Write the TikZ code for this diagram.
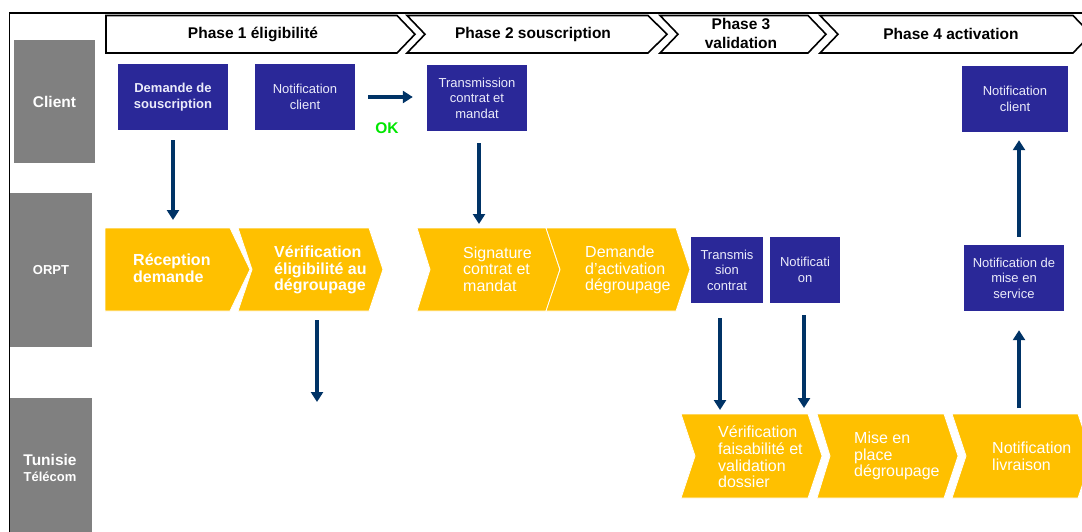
\documentclass[tikz,border=0pt]{standalone}
\usepackage{fontspec}
\setmainfont{Liberation Sans}
\usetikzlibrary{arrows.meta}
\definecolor{bluebox}{RGB}{42,40,152}
\definecolor{yel}{RGB}{255,192,0}
\definecolor{lanegray}{RGB}{128,128,128}
\definecolor{navy}{RGB}{0,51,102}
\definecolor{okgreen}{RGB}{0,230,0}
\definecolor{boxtxt}{RGB}{235,235,250}
% #1 style, #2 name, #3 xl, #4 xr (corner), #5 ytop, #6 ybot, #7 point depth, #8 notch depth
\newcommand\chv[8]{%
  \path[#1] (#3,#5) -- (#4,#5) -- ({#4+#7},{(#5+#6)/2}) -- (#4,#6) -- (#3,#6) -- ({#3+#8},{(#5+#6)/2}) -- cycle;
  \node[area, minimum width={#4+#7-#3}, minimum height={#6-#5}] (#2) at ({(#3+#4+#7)/2},{(#5+#6)/2}) {};}
\tikzset{
  area/.style={inner sep=0pt, outer sep=0pt, draw=none},
  phasechev/.style={draw=black, fill=white, line width=1.6pt, line join=miter},
  ychev/.style={fill=yel, draw=white, line width=0.8pt},
  phtxt/.style={align=center, font=\bfseries\fontsize{15.5}{19}\selectfont},
  lanebox/.style={fill=lanegray, text=white, inner sep=0pt, align=center, font=\bfseries\fontsize{15.5}{18}\selectfont},
  bbox/.style={fill=bluebox, text=boxtxt, inner sep=0pt, align=center, font=\fontsize{13}{15.5}\selectfont},
  ytxt/.style={text=white, anchor=west, align=left, inner sep=0pt, font=\fontsize{16}{16.7}\selectfont},
  ytxtb/.style={ytxt, font=\bfseries\fontsize{16}{16.7}\selectfont},
  arr/.style={draw=navy, line width=3.5pt, -{Triangle[width=12pt,length=10pt]}},
}
\begin{document}
\begin{tikzpicture}[x=1pt, y=-1pt]
\useasboundingbox (0,0) rectangle (1082,532);
\clip (0,0) rectangle (1082,532);
\fill[white] (0,0) rectangle (1082,532);

% frame
\draw[line width=1.8pt] (9.5,532) -- (9.5,13) -- (1090,13);

% phase chevrons
\chv{phasechev}{ph1}{106}{397}{15.5}{53}{18}{0}
\chv{phasechev}{ph2}{407}{648}{15.5}{53}{19}{18}
\chv{phasechev}{ph3}{660}{808}{15.5}{53}{18}{18}
\chv{phasechev}{ph4}{820}{1073}{15.5}{53}{18}{18}
\node[phtxt] (t1) at (253,34) {Phase 1 éligibilité};
\node[phtxt] (t2) at (533,34) {Phase 2 souscription};
\node[phtxt] (t3) at (741,33) {Phase 3\\validation};
\node[phtxt] (t4) at (951,34) {Phase 4 activation};

% lanes
\node[lanebox, minimum width=81, minimum height=123] (client) at (54.5,101.5) {Client};
\node[lanebox, minimum width=82, minimum height=154, font=\bfseries\fontsize{13}{15}\selectfont] (orpt) at (51,270) {ORPT};
\node[lanebox, minimum width=82, minimum height=134, text depth=0pt] (tt) at (51,465) {};
\node[text=white, align=center, inner sep=0pt, font=\bfseries\fontsize{15.5}{18}\selectfont] (ttl) at (50,468) {Tunisie\\[-2pt]{\fontsize{13}{15}\selectfont Télécom}};

% blue boxes
\node[bbox, minimum width=110, minimum height=66] (dem) at (173,97) {\textbf{Demande de}\\\textbf{souscription}};
\node[bbox, minimum width=100, minimum height=66] (nc) at (305,97) {Notification\\client};
\node[bbox, minimum width=100, minimum height=66] (tr) at (477,98) {Transmission\\contrat et\\mandat};
\node[bbox, minimum width=106, minimum height=66] (nc4) at (1015,99) {Notification\\client};
\node[bbox, minimum width=72, minimum height=66] (tc) at (727,270) {Transmis\\sion\\contrat};
\node[bbox, minimum width=70, minimum height=66] (no) at (805,270) {Notificati\\on};
\node[bbox, minimum width=100, minimum height=66] (ms) at (1014,278) {Notification de\\mise en\\service};

% yellow chevrons
\chv{ychev}{rec}{105}{230}{228}{311}{20}{0}
\chv{ychev}{ver}{238}{369}{228}{311}{14}{14}
\chv{ychev}{sig}{417}{546}{228}{311}{14}{13}
\chv{ychev}{da}{546}{676}{228}{311}{14}{14}
\chv{ychev}{vf}{681}{808}{414}{498}{14}{14}
\chv{ychev}{mp}{817}{944}{414}{498}{14}{13}
\chv{ychev}{nl}{952}{1078}{414}{498}{14}{14}

\node[ytxtb] at (133,268) {Réception\\demande};
\node[ytxtb] at (274,270) {Vérification\\éligibilité au\\dégroupage};
\node[ytxt] at (463,269) {Signature\\contrat et\\mandat};
\node[ytxt] at (585,270) {Demande\\d'activation\\dégroupage};
\node[ytxt] at (718,457) {Vérification\\faisabilité et\\validation\\dossier};
\node[ytxt] at (854,456) {Mise en\\place\\dégroupage};
\node[ytxt] at (992,456) {Notification\\livraison};

% OK label
\node[text=okgreen, font=\bfseries\fontsize{15.5}{18}\selectfont, inner sep=0pt] (ok) at (387,128) {OK};

% connectors
\coordinate (end3) at (317,402);
\draw[arr, shorten <=10pt, shorten >=8pt] (dem.south) -- (dem.south |- rec.north);
\draw[arr, shorten <=13pt, shorten >=14pt] (nc.east) -- (nc.east -| tr.west);
\draw[arr, shorten <=9pt] ([xshift=6.5pt]ver.south) -- (end3);
\draw[arr, shorten <=12pt, shorten >=4pt] ([xshift=2pt]tr.south) -- ([xshift=2pt]tr.south |- sig.north);
\draw[arr, shorten <=15pt, shorten >=4pt] ([xshift=-7pt]tc.south) -- ([xshift=-7pt]tc.south |- vf.north);
\draw[arr, shorten <=12pt, shorten >=6pt] ([xshift=-1pt]no.south) -- ([xshift=-1pt]no.south |- vf.north);
\draw[arr, shorten <=6pt, shorten >=19pt] ([xshift=5pt]ms.south |- nl.north) -- ([xshift=5pt]ms.south);
\draw[arr, shorten <=8pt, shorten >=8pt] ([xshift=5pt]ms.north) -- ([xshift=5pt]ms.north |- nc4.south);
\end{tikzpicture}
\end{document}
